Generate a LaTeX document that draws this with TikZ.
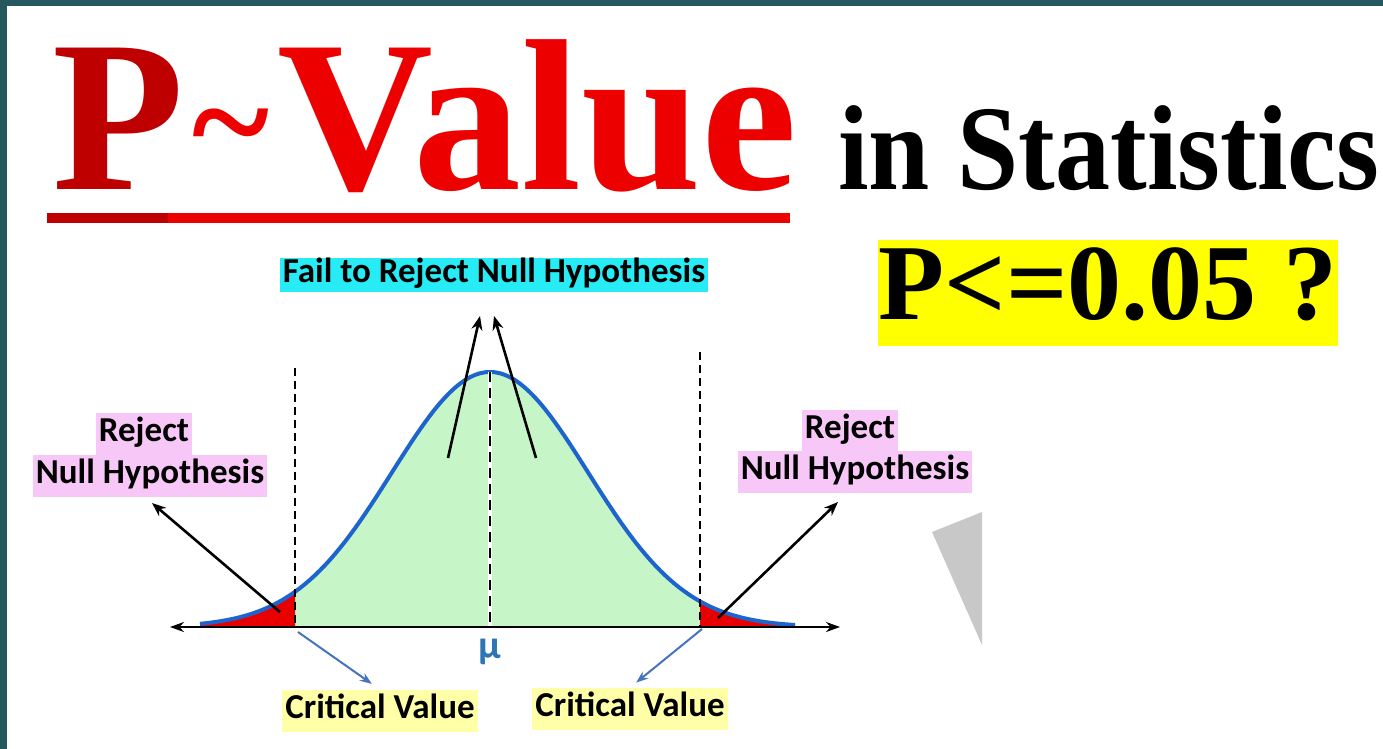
\documentclass[tikz,border=0pt]{standalone}
\usepackage{fontspec}
\setmainfont{Liberation Serif}
\newfontfamily\calibri{Carlito}
\usetikzlibrary{arrows.meta}

\definecolor{frameteal}{RGB}{36,88,94}
\definecolor{pdark}{RGB}{190,0,0}
\definecolor{pred}{RGB}{236,0,0}
\definecolor{pyellow}{RGB}{255,255,0}
\definecolor{failcyan}{RGB}{40,236,245}
\definecolor{rejpink}{RGB}{247,200,247}
\definecolor{crityellow}{RGB}{255,255,168}
\definecolor{accgreen}{RGB}{198,246,200}
\definecolor{tailred}{RGB}{232,0,0}
\definecolor{curveblue}{RGB}{30,100,205}
\definecolor{mublue}{RGB}{46,117,182}
\definecolor{critarrow}{RGB}{70,115,190}
\definecolor{trigray}{RGB}{200,200,200}

\tikzset{
  lbl/.style={font=\calibri\bfseries\fontsize{17.5}{20}\selectfont,
    inner xsep=1.5pt, inner ysep=0pt, text height=14pt, text depth=7pt},
  pinkbox/.style={lbl, fill=rejpink},
  critbox/.style={lbl, fill=crityellow},
  failbox/.style={lbl, fill=failcyan, text height=12.5pt, text depth=4.5pt},
  blkarrow/.style={-{Stealth[length=7pt,width=5.5pt]}, line width=1.3pt},
  bluearrow/.style={-{Stealth[length=6pt,width=4.5pt]}, line width=1pt, critarrow},
  critline/.style={dashed, dash pattern=on 4pt off 2.5pt, line width=1pt},
  declare function={gy(\x)=627-255*exp(-((\x-490)/98)^2/2);}
}

\begin{document}
\begin{tikzpicture}[x=0.5pt, y=-0.5pt]
    \useasboundingbox (0,0) rectangle (1383,749);
    % 边框
    \fill[frameteal] (0,0) rectangle (1383,6);
    \fill[frameteal] (0,0) rectangle (7,749);

    % 标题
    \node[anchor=base west, inner sep=0, font=\bfseries\fontsize{108}{120}\selectfont] (title) at (52,190)
        {\textcolor{pdark}{P}\textcolor{pred}{\hspace{4pt}\raisebox{9pt}{\fontsize{74}{74}\selectfont\textasciitilde}\hspace{4pt}Value}};
    \fill[pred] (47,213) rectangle (790,223);
    \fill[pdark] (47,213) rectangle (168,223);
    \node[anchor=base west, inner sep=0, font=\bfseries\fontsize{55}{60}\selectfont] (stat) at (838,190)
        {\scalebox{1}[1.1]{in Statistics}};

    % P<=0.05 ?
    \node[fill=pyellow, minimum width=230pt, inner sep=0pt, text height=40pt, text depth=13pt,
        font=\bfseries\fontsize{54}{60}\selectfont] (pq) at (1108,293) {P<=0.05 ?};

    % 灰色三角
    \fill[trigray] (932,532) -- (982,512) -- (982,645) -- cycle;

    % 正态曲线
    \fill[accgreen] (295,627) -- plot[domain=295:700, samples=80] (\x,{gy(\x)}) -- (700,627) -- cycle;
    \fill[tailred] (200,627) -- plot[domain=200:295, samples=30] (\x,{gy(\x)}) -- (295,627) -- cycle;
    \fill[tailred] (700,627) -- plot[domain=700:795, samples=30] (\x,{gy(\x)}) -- (795,627) -- cycle;
    \draw[curveblue, line width=2pt] plot[domain=200:795, samples=120] (\x,{gy(\x)});

    % 临界线
    \draw[critline] (295,368) -- (295,627);
    \draw[critline] (700,352) -- (700,627);
    \draw[white, line width=2pt] (490,372) -- (490,627);
    \draw[dashed, dash pattern=on 5pt off 3pt, line width=1.4pt] (490,372) -- (490,627);

    % 坐标轴
    \draw[{Stealth[length=7pt,width=5pt]}-{Stealth[length=7pt,width=5pt]}, line width=1.4pt] (170,627) -- (840,627);
    \node[font=\calibri\bfseries\fontsize{20}{22}\selectfont, mublue, inner sep=0] (mu) at (490,652) {μ};

    % 标注
    \node[failbox] (fail) at (494,275) {Fail to Reject Null Hypothesis};
    \node[pinkbox] (rejLa) at (144,434) {Reject};
    \node[pinkbox] (rejLb) at (150,476) {Null Hypothesis};
    \node[pinkbox] (rejRa) at (850,431) {Reject};
    \node[pinkbox] (rejRb) at (855,472) {Null Hypothesis};
    \node[critbox] (critL) at (380,711) {Critical Value};
    \node[critbox] (critR) at (630,709) {Critical Value};

    % 箭头
    \coordinate (peakL) at (448,458);
    \coordinate (peakR) at (536,458);
    \coordinate (tipL) at (480,316);
    \coordinate (tipR) at (494,316);
    \draw[blkarrow] (peakL) -- (tipL);
    \draw[blkarrow] (peakR) -- (tipR);

    \coordinate (tailL) at (280,612);
    \coordinate (tailR) at (718,618);
    \coordinate (rtipL) at (152,503);
    \coordinate (rtipR) at (838,502);
    \draw[blkarrow] (tailL) -- (rtipL);
    \draw[blkarrow] (tailR) -- (rtipR);

    \coordinate (cvL) at (298,632);
    \coordinate (cvR) at (702,629);
    \draw[bluearrow, shorten >=5pt] (cvL) -- (critL.north);
    \draw[bluearrow, shorten >=4pt] (cvR) -- (critR.north);
\end{tikzpicture}
\end{document}
